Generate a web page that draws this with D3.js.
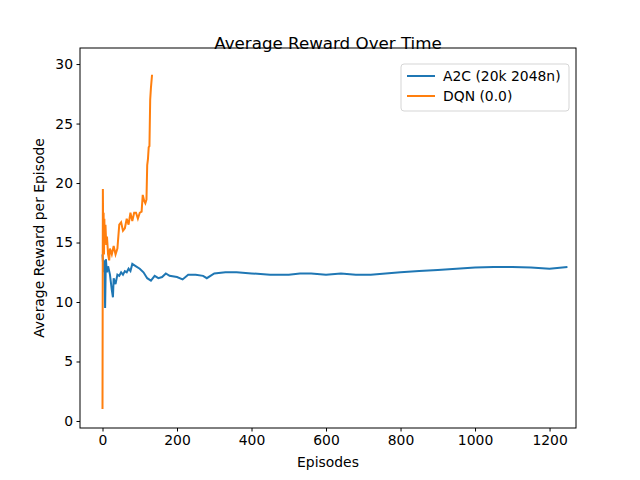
<!DOCTYPE html>
<html>
<head>
<script src="https://d3js.org/d3.v7.min.js"></script>
<style>
  body { margin: 0; background: #fff; }
  text { font-family: "DejaVu Sans", sans-serif; }
</style>
</head>
<body>
<svg id="chart" width="640" height="480"></svg>
<script>
// A2C (20k 2048n) running average
let a2cX = [0,3,5,7,9,12,15,20,25,28,30,35,40,45,50,55,60,65,70,75,80,90,100,110,120,130,140,150,160,170,180,200,215,230,250,270,280,300,330,360,400,450,500,530,560,600,640,680,720,760,800,850,900,950,1000,1050,1100,1150,1200,1248];
let a2cY = [14,12.5,13.5,9.5,13.6,12.5,13,12.3,11,10.4,12,11.5,12.3,12.2,12.5,12.3,12.6,12.5,12.8,12.6,13.2,13,12.8,12.5,12,11.8,12.2,12,12.1,12.4,12.2,12.1,11.9,12.3,12.3,12.2,12.0,12.4,12.5,12.5,12.4,12.3,12.3,12.4,12.4,12.3,12.4,12.3,12.3,12.4,12.5,12.6,12.7,12.8,12.9,12.95,12.95,12.9,12.8,12.95];
// DQN (0.0) running average
let dqnX = [0,1,2,3,4,5,6,8,10,12,15,18,20,25,30,35,40,45,50,55,60,65,70,75,80,85,90,95,100,105,108,112,115,118,120,122,124,126,128,130,133];
let dqnY = [1,19.5,15,17.5,14,17,15,16.5,14.8,15.5,14,13.5,14.5,14,14.7,14,14.5,16.5,16.7,16,16.2,17,16.5,17.5,16.8,17.5,17.5,17,17.5,17.6,19,18.5,18.3,18.6,21.5,22,23,23.1,27,28,29.1];
let xTicks = [0,200,400,600,800,1000,1200];
let yTicks = [0,5,10,15,20,25,30];

let svg = d3.select("#chart");
let mLeft = 80, mRight = 576, mTop = 48, mBottom = 428;
let x = d3.scaleLinear().domain([-60.4, 1271]).range([mLeft, mRight]);
let y = d3.scaleLinear().domain([-0.59, 31.35]).range([mBottom, mTop]);

svg.append("g").attr("transform", `translate(0,${mBottom})`)
  .call(d3.axisBottom(x).tickValues(xTicks).tickSize(3.5).tickPadding(3.5).tickFormat(d3.format("d")))
  .call(g => g.select(".domain").remove())
  .selectAll("text").style("font-size", "13.9px").attr("fill", "#000");
svg.append("g").attr("transform", `translate(${mLeft},0)`)
  .call(d3.axisLeft(y).tickValues(yTicks).tickSize(3.5).tickPadding(3.5))
  .call(g => g.select(".domain").remove())
  .selectAll("text").style("font-size", "13.9px").attr("fill", "#000");

let line = d3.line().x(d => x(d[0])).y(d => y(d[1]));
svg.append("path").datum(a2cX.map((v, i) => [v, a2cY[i]]))
  .attr("d", line).attr("fill", "none").attr("stroke", "#1f77b4").attr("stroke-width", 2);
svg.append("path").datum(dqnX.map((v, i) => [v, dqnY[i]]))
  .attr("d", line).attr("fill", "none").attr("stroke", "#ff7f0e").attr("stroke-width", 2);

svg.append("rect").attr("x", mLeft).attr("y", mTop).attr("width", mRight - mLeft).attr("height", mBottom - mTop)
  .attr("fill", "none").attr("stroke", "#000").attr("stroke-width", 1);

svg.append("text").attr("x", (mLeft + mRight) / 2).attr("y", 49).attr("text-anchor", "middle")
  .style("font-size", "16.7px").text("Average Reward Over Time");
svg.append("text").attr("x", (mLeft + mRight) / 2).attr("y", 467).attr("text-anchor", "middle")
  .style("font-size", "13.9px").text("Episodes");
svg.append("text").attr("transform", "translate(44,238) rotate(-90)").attr("text-anchor", "middle")
  .style("font-size", "13.9px").text("Average Reward per Episode");

// legend
let lg = svg.append("g");
lg.append("rect").attr("x", 401).attr("y", 64).attr("width", 168).attr("height", 47).attr("rx", 3)
  .attr("fill", "#fff").attr("stroke", "#ccc").attr("opacity", 0.8);
let names = ["A2C (20k 2048n)", "DQN (0.0)"], cols = ["#1f77b4", "#ff7f0e"];
names.forEach((n, i) => {
  let yy = 76 + i * 20;
  lg.append("line").attr("x1", 407).attr("x2", 435).attr("y1", yy).attr("y2", yy)
    .attr("stroke", cols[i]).attr("stroke-width", 2);
  lg.append("text").attr("x", 443).attr("y", yy + 5).style("font-size", "13.9px").text(n);
});
</script>
</body>
</html>
